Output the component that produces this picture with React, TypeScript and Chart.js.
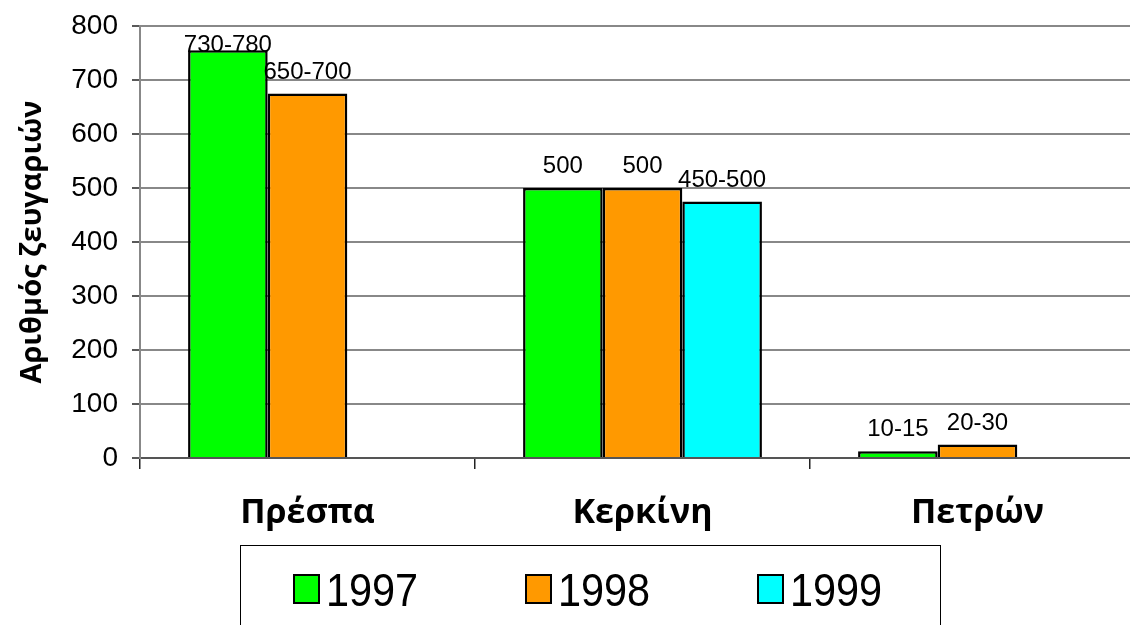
import React, { useEffect, useRef } from "react";
import { Chart, registerables } from "chart.js";

Chart.register(...registerables);

// ---- data ----
const categories = ["Πρέσπα", "Κερκίνη", "Πετρών"];
const seriesNames = ["1997", "1998", "1999"];
const values1997: (number | null)[] = [755, 500, 12.5];
const values1998: (number | null)[] = [675, 500, 25];
const values1999: (number | null)[] = [null, 475, null];
const labels1997 = ["730-780", "500", "10-15"];
const labels1998 = ["650-700", "500", "20-30"];
const labels1999 = ["", "450-500", ""];
const yMin = 0;
const yMax = 800;
const yStep = 100;
const yTitle = "Αριθμός ζευγαριών";

// ---- styles ----
const seriesColors = ["#00FF00", "#FF9900", "#00FFFF"];
const valueLabels = [labels1997, labels1998, labels1999];

const valueLabelPlugin = {
  id: "valueLabels",
  afterDatasetsDraw(chart: any) {
    const ctx = chart.ctx;
    ctx.save();
    ctx.font = '24px "Liberation Sans", Arial, sans-serif';
    ctx.fillStyle = "#000";
    ctx.textAlign = "center";
    ctx.textBaseline = "alphabetic";
    chart.data.datasets.forEach((ds: any, i: number) => {
      const meta = chart.getDatasetMeta(i);
      meta.data.forEach((el: any, j: number) => {
        const v = ds.data[j];
        const t = valueLabels[i][j];
        if (v == null || !t) return;
        const y = Math.max(el.y - 15, chart.chartArea.top + 26);
        ctx.fillText(t, el.x, y);
      });
    });
    ctx.restore();
  },
};

const boxedLegendPlugin = {
  id: "boxedLegend",
  afterDraw(chart: any) {
    const ctx = chart.ctx;
    const left = 240;
    const top = 545;
    const width = 700;
    ctx.save();
    ctx.strokeStyle = "#000";
    ctx.lineWidth = 1;
    ctx.strokeRect(left + 0.5, top + 0.5, width, 200);
    chart.data.datasets.forEach((ds: any, i: number) => {
      const x = left + 53 + i * 232;
      ctx.fillStyle = ds.backgroundColor;
      ctx.fillRect(x, 574, 27, 30);
      ctx.lineWidth = 2;
      ctx.strokeStyle = "#000";
      ctx.strokeRect(x + 1, 575, 25, 28);
      ctx.save();
      ctx.translate(x + 33, 606);
      ctx.scale(0.9, 1);
      ctx.font = '46px "Liberation Sans", Arial, sans-serif';
      ctx.fillStyle = "#000";
      ctx.textAlign = "left";
      ctx.textBaseline = "alphabetic";
      ctx.fillText(ds.label, 0, 0);
      ctx.restore();
    });
    ctx.restore();
  },
};

export default function App() {
  const ref = useRef<HTMLCanvasElement | null>(null);

  useEffect(() => {
    if (!ref.current) return;
    const seriesValues = [values1997, values1998, values1999];
    const chart = new Chart(ref.current, {
      type: "bar",
      data: {
        labels: categories,
        datasets: seriesNames.map((name, i) => ({
          label: name,
          data: seriesValues[i],
          backgroundColor: seriesColors[i],
          borderColor: "#000",
          borderWidth: 2.5,
          categoryPercentage: 0.713,
          barPercentage: 1,
        })),
      },
      options: {
        responsive: false,
        animation: false,
        layout: { padding: { left: 0, right: 25, top: 26, bottom: 87 } },
        plugins: {
          legend: { display: false },
          tooltip: { enabled: false },
          title: { display: false },
        },
        scales: {
          x: {
            grid: {
              display: true,
              drawOnChartArea: false,
              drawTicks: true,
              tickLength: 11,
              color: "#222",
              lineWidth: 1.5,
              offset: true,
            },
            border: { display: true, color: "#555", width: 2 },
            ticks: {
              color: "#000",
              padding: 24,
              font: { family: '"Open Sans", "Noto Sans", sans-serif', size: 34, weight: "bold" },
            },
            afterFit(scale: any) {
              scale.height = 80;
            },
          },
          y: {
            min: yMin,
            max: yMax,
            ticks: {
              stepSize: yStep,
              color: "#000",
              padding: 14,
              font: { family: '"Liberation Sans", Arial, sans-serif', size: 28, lineHeight: 0.8 },
            },
            grid: {
              color: "#888",
              lineWidth: 2,
              tickLength: 8,
              tickColor: "#222",
              tickWidth: 1.5,
            },
            border: { display: true, color: "#888", width: 2 },
            title: {
              display: true,
              text: yTitle,
              color: "#000",
              padding: { top: 15, bottom: 0 },
              font: { family: '"Open Sans", "Noto Sans", sans-serif', size: 29, weight: "bold" },
            },
            afterFit(scale: any) {
              scale.width = 140;
            },
          },
        },
      },
      plugins: [valueLabelPlugin, boxedLegendPlugin],
    });
    return () => chart.destroy();
  }, []);

  return (
    <div
      style={{
        position: "fixed",
        left: 0,
        top: 0,
        width: 1130,
        height: 625,
        overflow: "hidden",
        background: "#fff",
      }}
    >
      <canvas ref={ref} width={1170} height={625} style={{ display: "block", width: 1170, height: 625 }} />
    </div>
  );
}
